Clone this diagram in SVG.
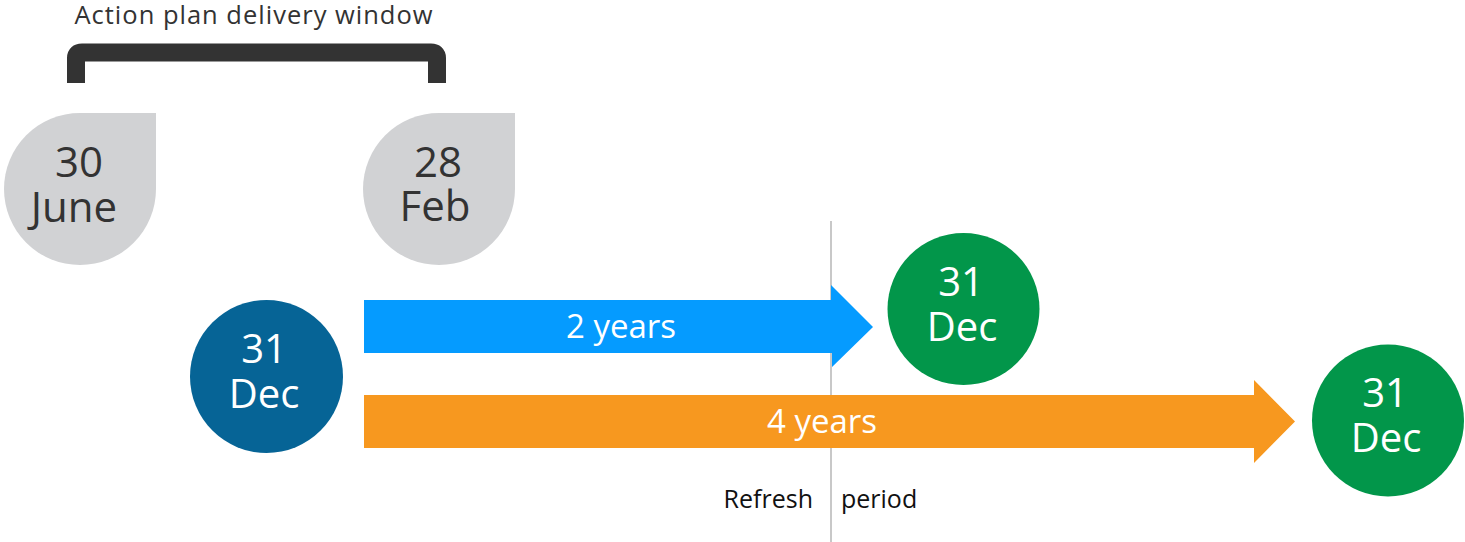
<svg xmlns="http://www.w3.org/2000/svg" width="1465" height="542" viewBox="0 0 1465 542">
<style>
.t{font-family:"Open Sans","Noto Sans","Liberation Sans",sans-serif;text-anchor:middle}
.drop{fill:#d1d2d4}
.dt{fill:#333333;font-size:42px}
.ct{fill:#ffffff;font-size:40px}
.at{fill:#ffffff;font-size:33px}
.lbl{fill:#111111;font-size:25px;font-family:"Open Sans","Noto Sans","Liberation Sans",sans-serif}
</style>
<rect width="1465" height="542" fill="#ffffff"/>
<g id="title">
<text class="t" x="254" y="24" style="fill:#333;font-size:25.5px;letter-spacing:1px">Action plan delivery window</text>
<path d="M76,83 V58 Q76,52.5 82,52.5 H431 Q437,52.5 437,58 V83" fill="none" stroke="#333333" stroke-width="18"/>
</g>
<g id="connectors">
<line x1="831" y1="221" x2="831" y2="542" stroke="#c8c8c8" stroke-width="2"/>
<path d="M364,300 H831 V285 L873,327 L831,368 V353 H364 Z" fill="#059bff"/>
<path d="M364,395 H1254 V380 L1295,421.5 L1254,463 V448 H364 Z" fill="#f7981f"/>
<line x1="831" y1="353" x2="831" y2="395" stroke="#c8c8c8" stroke-width="2"/>
<text class="t at" x="621" y="338">2 years</text>
<text class="t at" x="822" y="433">4 years</text>
</g>
<g id="june30">
<path class="drop" d="M80,113 H156 V189 A76,76 0 1 1 80,113 Z"/>
<text class="t dt"><tspan x="79" y="177">30</tspan><tspan x="74" y="222">June</tspan></text>
</g>
<g id="feb28">
<path class="drop" d="M439,113 H515 V189 A76,76 0 1 1 439,113 Z"/>
<text class="t dt"><tspan x="438" y="177">28</tspan><tspan x="435" y="221">Feb</tspan></text>
</g>
<g id="dec31start">
<circle cx="266.5" cy="376.5" r="76.5" fill="#066496"/>
<text class="t ct"><tspan x="264" y="363">31</tspan><tspan x="264" y="408">Dec</tspan></text>
</g>
<g id="dec31two">
<circle cx="963.5" cy="309" r="76" fill="#02964a"/>
<text class="t ct"><tspan x="961" y="296">31</tspan><tspan x="962" y="341">Dec</tspan></text>
</g>
<g id="dec31four">
<circle cx="1388" cy="420.5" r="76" fill="#02964a"/>
<text class="t ct"><tspan x="1385" y="407">31</tspan><tspan x="1386" y="452">Dec</tspan></text>
</g>
<g id="refresh">
<text class="lbl" x="813" y="508" text-anchor="end">Refresh</text>
<text class="lbl" x="841" y="508" text-anchor="start">period</text>
</g>
</svg>
